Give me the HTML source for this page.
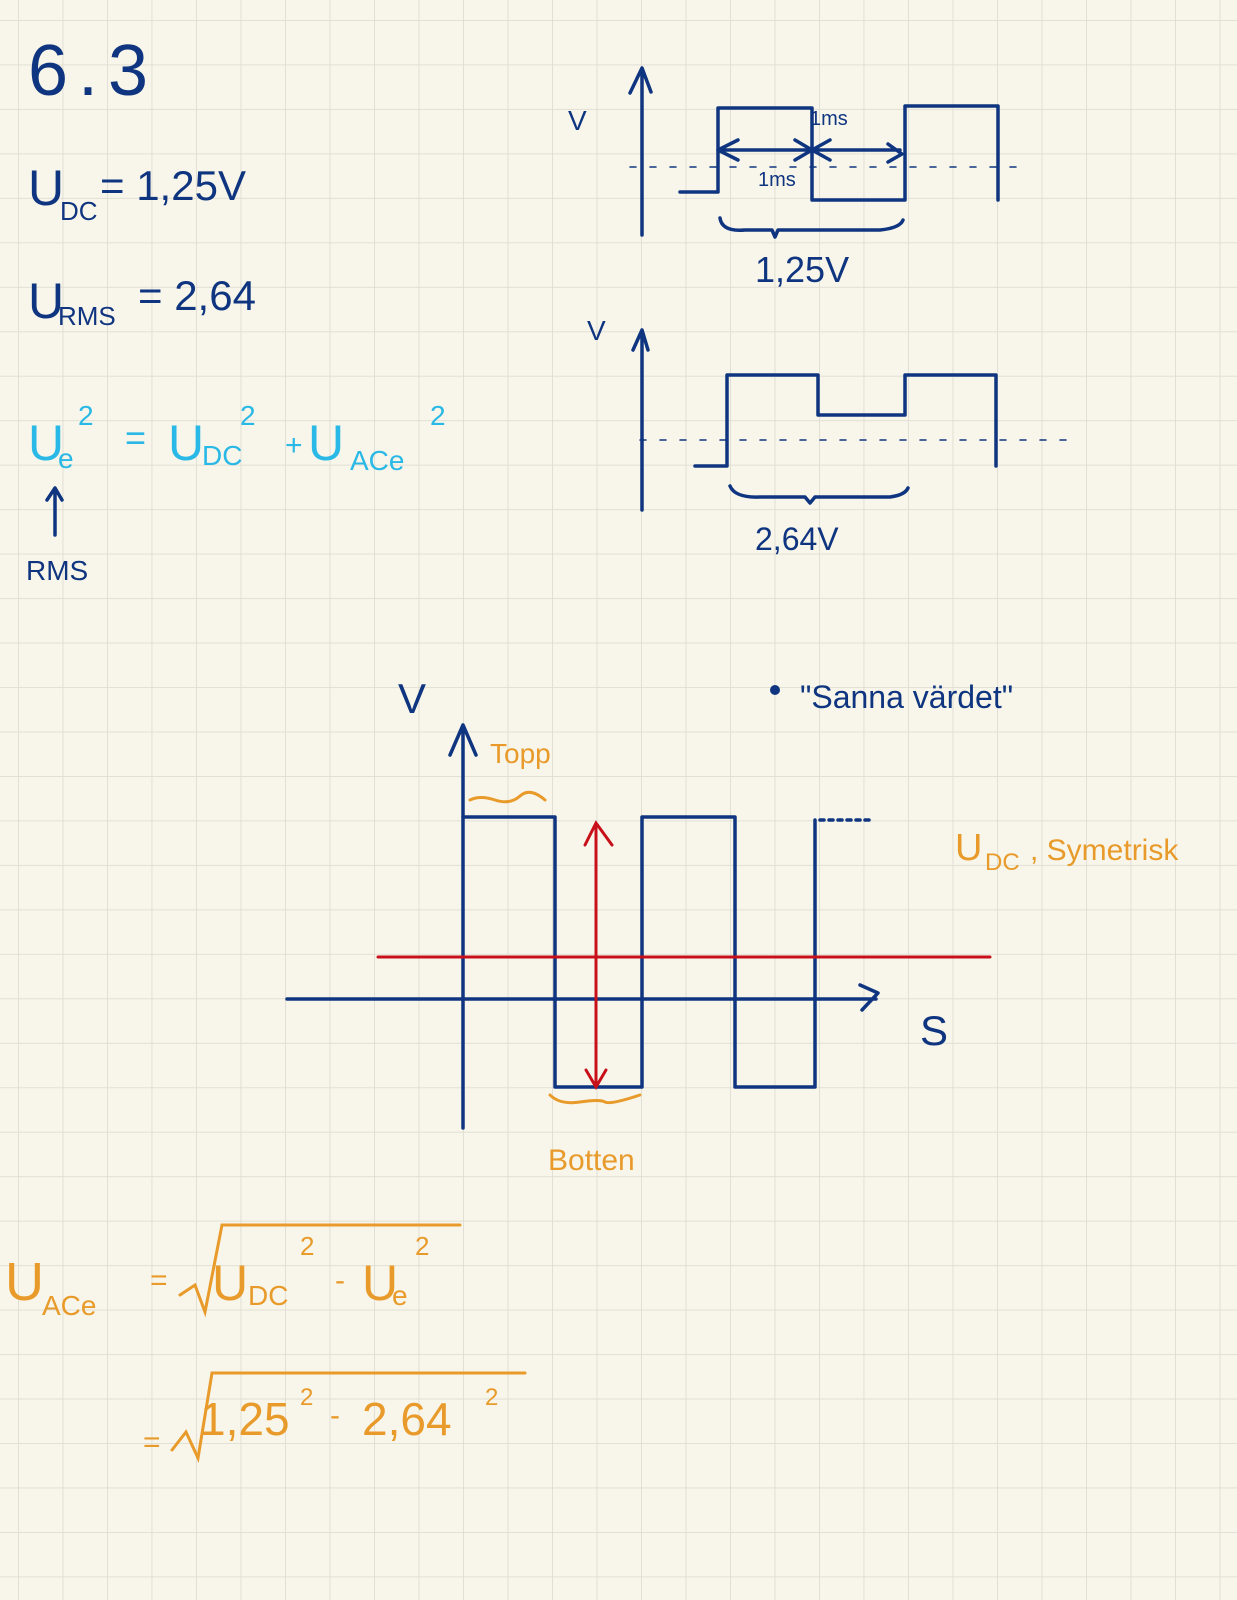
<!DOCTYPE html>
<html><head><meta charset="utf-8"><style>
html,body{margin:0;padding:0;background:#f8f6ea}
svg{display:block}
text{font-family:"Liberation Sans",sans-serif}
</style></head><body>
<svg width="1237" height="1600" viewBox="0 0 1237 1600" xmlns="http://www.w3.org/2000/svg">
<defs>
<pattern id="g" x="18" y="20" width="44.5" height="44.47" patternUnits="userSpaceOnUse">
<path d="M0 0V44.47M0 0H44.5" stroke="#dfddd2" stroke-width="1.8" fill="none"/>
</pattern>
</defs>
<rect width="1237" height="1600" fill="#f8f6ea"/>
<rect width="1237" height="1600" fill="url(#g)"/>

<g fill="#0f3580" font-weight="normal">
<text x="28" y="95" font-size="72" letter-spacing="10">6.3</text>
<text x="28" y="205" font-size="50">U</text><text x="60" y="220" font-size="26">DC</text><text x="100" y="200" font-size="42">= 1,25V</text>
<text x="28" y="318" font-size="50">U</text><text x="58" y="325" font-size="26">RMS</text><text x="138" y="310" font-size="42">= 2,64</text>
<text x="26" y="580" font-size="28">RMS</text>
<text x="568" y="130" font-size="28">V</text>
<text x="810" y="125" font-size="20">1ms</text>
<text x="758" y="186" font-size="20">1ms</text>
<text x="755" y="282" font-size="36">1,25V</text>
<text x="587" y="340" font-size="28">V</text>
<text x="755" y="550" font-size="32">2,64V</text>
<text x="398" y="713" font-size="42">V</text>
<text x="920" y="1045" font-size="42">S</text>
<text x="800" y="708" font-size="32">"Sanna värdet"</text>
</g>
<circle cx="775" cy="690" r="5" fill="#0f3580"/>

<g fill="#2ab8e6">
<text x="28" y="460" font-size="50">U</text><text x="58" y="468" font-size="28">e</text><text x="78" y="425" font-size="28">2</text>
<text x="125" y="450" font-size="36">=</text>
<text x="168" y="460" font-size="50">U</text><text x="202" y="465" font-size="28">DC</text><text x="240" y="425" font-size="28">2</text>
<text x="285" y="455" font-size="30">+</text>
<text x="308" y="460" font-size="50">U</text><text x="350" y="470" font-size="28">ACe</text><text x="430" y="425" font-size="28">2</text>
</g>

<g fill="#e89a2a">
<text x="490" y="763" font-size="28">Topp</text>
<text x="548" y="1170" font-size="30">Botten</text>
<text x="955" y="860" font-size="38">U</text><text x="985" y="870" font-size="24">DC</text><text x="1030" y="860" font-size="30">, Symetrisk</text>
<text x="5" y="1300" font-size="54">U</text><text x="42" y="1315" font-size="28">ACe</text><text x="150" y="1290" font-size="30">=</text>
<text x="212" y="1300" font-size="50">U</text><text x="248" y="1305" font-size="28">DC</text><text x="300" y="1255" font-size="26">2</text>
<text x="335" y="1290" font-size="30">-</text>
<text x="362" y="1300" font-size="50">U</text><text x="392" y="1305" font-size="28">e</text><text x="415" y="1255" font-size="26">2</text>
<text x="143" y="1452" font-size="30">=</text>
<text x="200" y="1435" font-size="46">1,25</text><text x="300" y="1405" font-size="24">2</text>
<text x="330" y="1425" font-size="30">-</text>
<text x="362" y="1435" font-size="46">2,64</text><text x="485" y="1405" font-size="24">2</text>
</g>

<g fill="none" stroke="#0f3580" stroke-width="3.5" stroke-linecap="round" stroke-linejoin="round">
<path d="M55 535V490M47 500L55 488L62 500"/>
<path d="M642 235V70M630 93L642 68L651 92"/>
<path d="M680 192H718V108H812V200H905V106H998V200"/>
<path d="M718 150H812M738 140L718 150L738 160M795 140L812 150L795 160"/>
<path d="M812 150H900M830 140L812 150L830 160M888 144L902 154L888 162"/>
<path d="M630 167H1030" stroke-width="1.5" stroke-dasharray="6 14"/>
<path d="M720 218Q722 232 745 230H772L775 237L778 230H880Q900 228 903 220"/>
<path d="M642 510V330M633 350L642 330L648 350"/>
<path d="M695 466H727V375H818V415H905V375H996V466"/>
<path d="M640 440H1075" stroke-width="1.5" stroke-dasharray="6 14"/>
<path d="M730 486Q735 498 760 497H805L810 503L815 497H890Q905 495 908 488"/>
<path d="M463 1128V725M450 755L463 725L476 755"/>
<path d="M287 999H876M860 985L878 993L862 1010"/>
<path d="M463 817H555V1087H642V817H735V1087H815V820"/>
<path d="M820 820H870" stroke-dasharray="4 5"/>
</g>
<g fill="none" stroke="#c8101a" stroke-width="3" stroke-linecap="round">
<path d="M378 957H990"/>
<path d="M596 825V1085M585 845L596 823L612 845M586 1070L596 1087L606 1070"/>
</g>
<g fill="none" stroke="#e89a2a" stroke-width="3" stroke-linecap="round">
<path d="M470 800Q480 795 495 800T520 796T545 800"/>
<path d="M550 1095Q560 1105 580 1102T605 1102T640 1095"/>
<path d="M180 1295L195 1285L205 1312L222 1225H460"/>
<path d="M172 1450L186 1432L198 1458L212 1373H525"/>
</g>
</svg>
</body></html>
